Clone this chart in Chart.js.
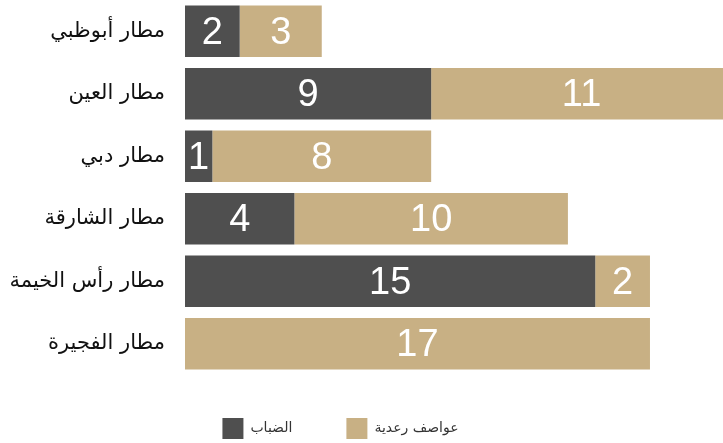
<!DOCTYPE html>
<html>
<head>
<meta charset="utf-8">
<script src="https://cdn.jsdelivr.net/npm/chart.js@4.4.0/dist/chart.umd.min.js"></script>
<style>
  html, body { margin: 0; padding: 0; background: #ffffff; }
  #wrap { width: 723px; height: 443px; }
</style>
</head>
<body>
<div id="wrap"><canvas id="barChart"></canvas></div>
<script>
var airports = ["مطار أبوظبي", "مطار العين", "مطار دبي", "مطار الشارقة", "مطار رأس الخيمة", "مطار الفجيرة"];
var fogDays = [2, 9, 1, 4, 15, 0];
var stormDays = [3, 11, 8, 10, 2, 17];
var seriesNames = ["الضباب", "عواصف رعدية"];

var fogColor = "#4f4f4f";
var stormColor = "#c8b084";

// write the value in the middle of every bar
var barValues = {
  id: "barValues",
  afterDatasetsDraw: function (chart) {
    var ctx = chart.ctx;
    ctx.save();
    ctx.font = "38px 'Liberation Sans', Arial, sans-serif";
    ctx.fillStyle = "#ffffff";
    ctx.textAlign = "center";
    ctx.textBaseline = "middle";
    chart.data.datasets.forEach(function (ds, i) {
      var meta = chart.getDatasetMeta(i);
      meta.data.forEach(function (bar, j) {
        var v = ds.data[j];
        if (!v) return;
        ctx.fillText(String(v), (bar.x + bar.base) / 2, bar.y + 2);
      });
    });
    ctx.restore();
  }
};

// legend sits lower and a bit left of where chart.js puts it
var legendSpot = {
  id: "legendSpot",
  beforeInit: function (chart) {
    var fit = chart.legend.fit;
    chart.legend.fit = function () {
      fit.bind(chart.legend)();
      this.height = 68;
    };
  },
  afterLayout: function (chart) {
    var lg = chart.legend;
    lg.top -= 11;
    lg.left -= 21;
    lg.right -= 21;
  }
};

var ctx = document.getElementById("barChart").getContext("2d");
var myChart = new Chart(ctx, {
  type: "bar",
  data: {
    labels: airports,
    datasets: [
      {
        label: seriesNames[0],
        data: fogDays,
        backgroundColor: fogColor,
        borderWidth: 0
      },
      {
        label: seriesNames[1],
        data: stormDays,
        backgroundColor: stormColor,
        borderWidth: 0
      }
    ]
  },
  options: {
    indexAxis: "y",
    responsive: true,
    maintainAspectRatio: false,
    animation: false,
    layout: { padding: { top: -3, right: 0, left: 0, bottom: 0 } },
    datasets: {
      bar: { barPercentage: 0.825, categoryPercentage: 1 }
    },
    scales: {
      x: {
        stacked: true,
        display: false,
        min: 0,
        max: 19.67
      },
      y: {
        stacked: true,
        grid: { display: false, tickLength: 20 },
        border: { display: false },
        ticks: {
          color: "#111111",
          padding: 0,
          font: { family: "'DejaVu Sans', sans-serif", size: 21 }
        },
        afterFit: function (scale) {
          scale.width = 185;
          scale.paddingTop = 0;
          scale.paddingBottom = 0;
        }
      }
    },
    plugins: {
      tooltip: { enabled: false },
      legend: {
        position: "bottom",
        labels: {
          boxWidth: 21,
          boxHeight: 21,
          padding: 54,
          color: "#333333",
          font: { family: "'DejaVu Sans', sans-serif", size: 14 }
        }
      }
    }
  },
  plugins: [barValues, legendSpot]
});
</script>
</body>
</html>
